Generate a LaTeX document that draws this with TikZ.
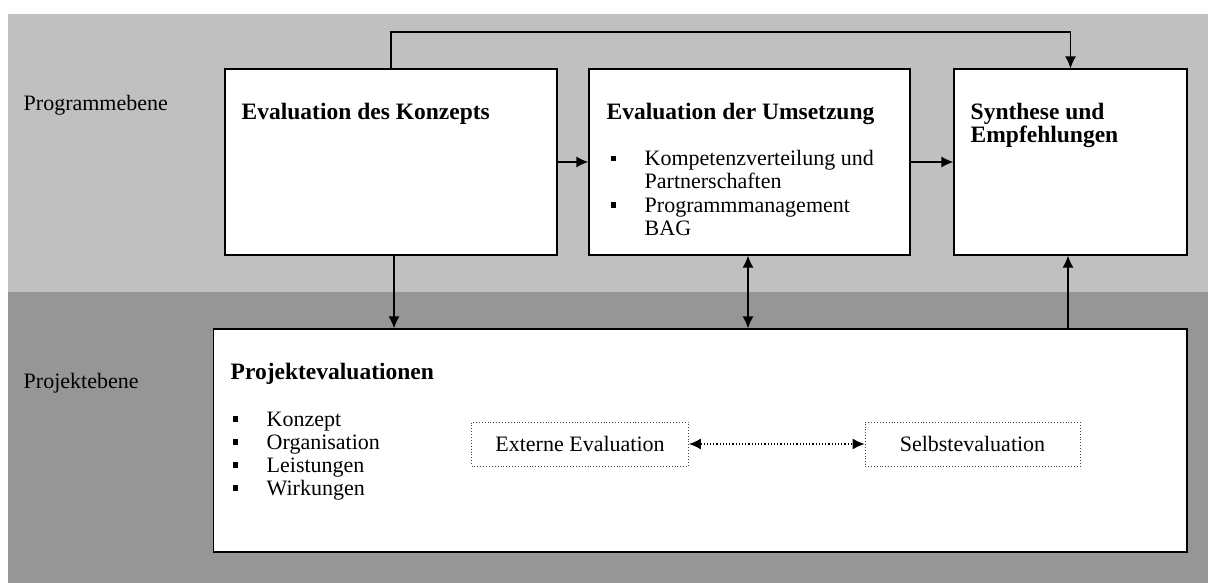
\documentclass[tikz,border=0pt]{standalone}
\usepackage{fontspec}
\setmainfont{Liberation Serif}
\usetikzlibrary{arrows.meta,positioning}
\definecolor{bandlight}{RGB}{192,192,192}
\definecolor{banddark}{RGB}{150,150,150}
\newcommand{\blt}[1]{\makebox[34pt][l]{\rule[4.5pt]{5.5pt}{5.5pt}}#1}

\begin{document}
\begin{tikzpicture}[x=1pt,y=-1pt,>={Latex[length=12pt,width=11pt]},line width=1.4pt,
    box/.style={draw,fill=white,inner sep=0pt,line width=1.2pt,minimum height=186pt},
    dotbox/.style={draw=black!75,dotted,fill=white,inner sep=0pt,line width=0.9pt,minimum height=44pt,font=\fontsize{22}{23}\selectfont},
    txt/.style={anchor=base west,inner sep=0pt,font=\fontsize{22}{23}\selectfont},
    heading/.style={txt,font=\fontsize{23.5}{23}\selectfont\bfseries}]
    \useasboundingbox (0,0) rectangle (1208,583);
    % Ebenen
    \fill[bandlight] (8,14) rectangle (1208,292);
    \fill[banddark] (8,292) rectangle (1208,583);
    \node[txt] (programmebene) at (23,111) {Programmebene};
    \node[txt] (projektebene) at (23,388) {Projektebene};

    % Boxen
    \node[box,minimum width=332pt] (konzept) at (391,162) {};
    \node[box,minimum width=321pt] (umsetzung) at (749.5,162) {};
    \node[box,minimum width=233pt] (synthese) at (1070.5,162) {};
    \node[box,minimum width=973.5pt,minimum height=223pt] (projekt) at (700.25,440.5) {};
    \coordinate (oben) at (0,32);

    % Texte
    \node[heading] (konzepttitel) at (241,120) {Evaluation des Konzepts};
    \node[heading] (umsetzungtitel) at (606,120) {Evaluation der Umsetzung};
    \node[txt] (u1) at (610,166) {\blt{Kompetenzverteilung und}};
    \node[txt] (u2) at (644,189) {Partnerschaften};
    \node[txt] (u3) at (610,212) {\blt{Programmmanagement}};
    \node[txt] (u4) at (644,235) {BAG};
    \node[heading] (synthesetitel) at (970,120) {Synthese und};
    \node[heading] (synthesetitel2) at (970,143) {Empfehlungen};
    \node[heading] (projekttitel) at (230,379) {Projektevaluationen};
    \foreach \t [count=\i] in {Konzept,Organisation,Leistungen,Wirkungen}
        \node[txt] (p\i) at (232,403+23*\i) {\blt{\t}};
    \node[dotbox,minimum width=217pt] (extern) at (580,444) {Externe Evaluation};
    \node[dotbox,minimum width=215pt] (selbst) at (972.5,444) {Selbstevaluation};

    % Pfeile
    \draw[->] (konzept.north) -- (konzept.north |- oben) -| (synthese.north);
    \draw[->] (konzept.east) -- (umsetzung.west);
    \draw[->] (umsetzung.east) -- (synthese.west);
    \draw[->] ([xshift=3pt]konzept.south) -- ([xshift=3pt]konzept.south |- projekt.north);
    \draw[<->] ([xshift=-1.5pt]umsetzung.south) -- ([xshift=-1.5pt]umsetzung.south |- projekt.north);
    \draw[->] ([xshift=-2.5pt]synthese.south |- projekt.north) -- ([xshift=-2.5pt]synthese.south);
    \draw[<->,dotted,line width=1.2pt] (extern) -- (selbst);
\end{tikzpicture}
\end{document}
